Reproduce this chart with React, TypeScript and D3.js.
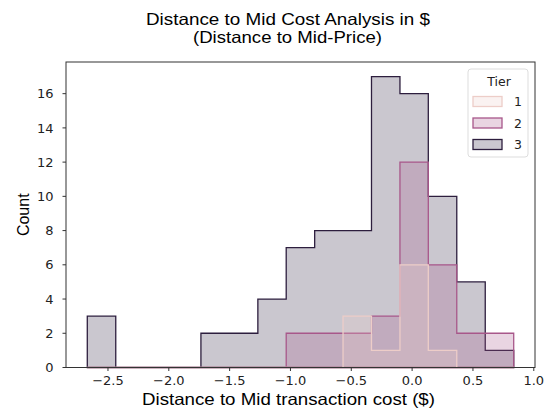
import React from "react";
import * as d3 from "d3";

const binEdges = [-2.67, -2.436, -2.203, -1.969, -1.736, -1.502, -1.268, -1.035, -0.801, -0.568, -0.334, -0.1, 0.133, 0.367, 0.601, 0.835];
const tier1Counts = [0, 0, 0, 0, 0, 0, 0, 0, 0, 3, 1, 6, 1, 0, 0];
const tier2Counts = [0, 0, 0, 0, 0, 0, 0, 2, 2, 2, 3, 12, 6, 2, 2];
const tier3Counts = [3, 0, 0, 0, 2, 2, 4, 7, 8, 8, 17, 16, 10, 5, 1];
const tierLabels = ["1", "2", "3"];
const tierColors = ["#edcdc8", "#a8578a", "#2d1e3e"];
const xTicks = [-2.5, -2.0, -1.5, -1.0, -0.5, 0.0, 0.5, 1.0];
const yTicks = [0, 2, 4, 6, 8, 10, 12, 14, 16];

const W = 556, H = 417;
const left = 66, right = 535, top = 62, bottom = 367.5;
const font = "'Liberation Sans', Arial, sans-serif";
const tickFont = "'DejaVu Sans', sans-serif";

export default function App() {
  const x = d3.scaleLinear().domain([-2.845, 1.01]).range([left, right]);
  const y = d3.scaleLinear().domain([0, 17.85]).range([bottom, top]);
  const series = [tier1Counts, tier2Counts, tier3Counts];

  const stepPath = (counts: number[]) => {
    const pts: [number, number][] = [];
    pts.push([x(binEdges[0]), y(0)]);
    counts.forEach((c, i) => {
      pts.push([x(binEdges[i]), y(c)]);
      pts.push([x(binEdges[i + 1]), y(c)]);
    });
    pts.push([x(binEdges[binEdges.length - 1]), y(0)]);
    return d3.line()(pts) + "Z";
  };

  const fmt = (v: number) => (v < 0 ? "\u2212" : "") + Math.abs(v).toFixed(1);

  return (
    <div style={{ position: "absolute", left: 0, top: 0 }}>
      <svg width={W} height={H} style={{ display: "block", background: "#fff" }}>
        <text x={146} y={24.5} textLength={284} lengthAdjust="spacingAndGlyphs" fontFamily={font} fontSize={16.5} fill="#000">
          Distance to Mid Cost Analysis in $
        </text>
        <text x={193} y={43} textLength={189} lengthAdjust="spacingAndGlyphs" fontFamily={font} fontSize={16.5} fill="#000">
          (Distance to Mid-Price)
        </text>
        {[2, 1, 0].map((k) => (
          <path
            key={k}
            d={stepPath(series[k])}
            fill={tierColors[k]}
            fillOpacity={0.25}
            stroke={tierColors[k]}
            strokeWidth={1.3}
            strokeLinejoin="miter"
          />
        ))}
        <rect x={left} y={top} width={right - left} height={bottom - top} fill="none" stroke="#333" strokeWidth={1} />
        {xTicks.map((t) => (
          <g key={t} transform={`translate(${x(t)},${bottom})`}>
            <line y2={3.5} stroke="#333" />
            <text y={17} textAnchor="middle" fontFamily={tickFont} fontSize={13} fill="#222">
              {fmt(t)}
            </text>
          </g>
        ))}
        {yTicks.map((t) => (
          <g key={t} transform={`translate(${left},${y(t)})`}>
            <line x2={-3.5} stroke="#333" />
            <text x={-12.5} dy="0.36em" textAnchor="end" fontFamily={tickFont} fontSize={13} fill="#222">
              {t}
            </text>
          </g>
        ))}
        <text x={142} y={405} textLength={293} lengthAdjust="spacingAndGlyphs" fontFamily={font} fontSize={16.5} fill="#000">
          Distance to Mid transaction cost ($)
        </text>
        <text transform={`translate(29,${(top + bottom) / 2}) rotate(-90)`} textAnchor="middle" fontFamily={font} fontSize={16} fill="#000">
          Count
        </text>
        <g>
          <rect x={468} y={69} width={60} height={88} rx={3} fill="#fff" fillOpacity={0.8} stroke="#ddd" />
          <text x={499} y={86} textAnchor="middle" fontFamily={tickFont} fontSize={12.5} fill="#222">
            Tier
          </text>
          {tierLabels.map((lab, i) => (
            <g key={lab} transform={`translate(0,${101.5 + i * 21.5})`}>
              <rect x={473} y={-5} width={29} height={10} fill="#fff" />
              <rect x={473} y={-5} width={29} height={10} fill={tierColors[i]} fillOpacity={0.25} stroke={tierColors[i]} strokeWidth={1.3} />
              <text x={514} dy="0.36em" fontFamily={tickFont} fontSize={12.5} fill="#222">
                {lab}
              </text>
            </g>
          ))}
        </g>
      </svg>
    </div>
  );
}
